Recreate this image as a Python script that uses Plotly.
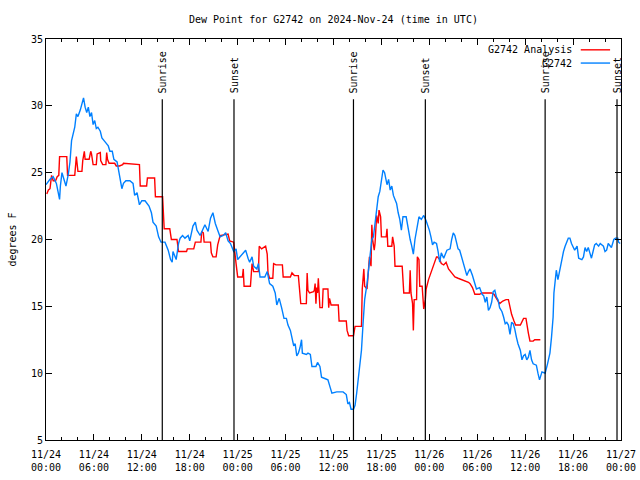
import pandas as pd
import plotly.graph_objects as go

BASE = pd.Timestamp("2024-11-24 00:00")

# ---- data: hours since 2024-11-24 00:00 UTC, dew point in degrees F ----
obs_hours = [0.0, 0.5, 0.9, 1.3, 1.5, 1.7, 1.8, 2.0, 2.3, 2.5, 2.8, 3.0, 3.2, 3.4, 3.6, 3.8, 4.0, 4.3, 4.5, 4.7,
             4.9, 5.1, 5.3, 5.5, 5.7, 5.9, 6.1, 6.3, 6.5, 6.8, 7.0, 7.2, 7.4, 7.8, 8.0, 8.3, 8.5, 8.9, 9.1, 9.3,
             9.5, 9.7, 10.0, 10.5, 10.9, 11.1, 11.4, 11.7, 12.0, 12.4, 12.6, 12.9, 13.2, 13.4, 13.8, 14.1, 14.4,
             14.9, 15.3, 15.6, 15.8, 15.9, 16.3, 16.6, 16.8, 17.1, 17.4, 17.8, 18.0, 18.4, 18.7, 18.9, 19.3, 19.6,
             19.9, 20.3, 20.6, 20.9, 21.2, 21.5, 21.8, 22.2, 22.5, 22.8, 23.1, 23.5, 23.8, 24.0, 24.3, 24.7, 25.0,
             25.3, 25.5, 25.8, 26.0, 26.4, 26.6, 26.8, 27.4, 27.7, 28.0, 28.4, 28.7, 28.9, 29.2, 29.5, 29.8, 30.1,
             30.3, 30.6, 30.8, 31.0, 31.2, 31.4, 31.6, 31.8, 32.0, 32.1, 32.6, 32.8, 33.1, 33.3, 33.8, 34.0, 34.3,
             34.5, 34.9, 35.3, 35.6, 35.8, 36.4, 37.2, 37.6, 37.8, 38.0, 38.2, 38.5, 38.7, 38.9, 39.1, 39.3, 39.5,
             39.7, 39.9, 40.2, 40.4, 40.6, 40.8, 41.0, 41.2, 41.4, 41.6, 41.8, 42.0, 42.2, 42.4, 42.7, 42.9, 43.1,
             43.3, 43.5, 43.7, 43.9, 44.1, 44.3, 44.5, 44.7, 45.1, 45.4, 45.6, 45.8, 46.0, 46.2, 46.5, 46.7, 47.0,
             47.3, 47.6, 47.8, 48.0, 48.2, 48.4, 48.6, 48.9, 49.1, 49.3, 49.5, 49.8, 50.2, 50.6, 50.8, 51.0, 51.2,
             51.4, 51.6, 51.8, 52.1, 52.3, 52.5, 52.7, 52.9, 53.1, 53.4, 53.7, 53.9, 54.3, 54.6, 54.8, 55.0, 55.2,
             55.4, 55.6, 55.8, 56.0, 56.2, 56.4, 56.6, 56.8, 57.1, 57.3, 57.5, 57.7, 57.9, 58.1, 58.3, 58.5, 58.7,
             58.9, 59.1, 59.4, 59.6, 59.8, 60.0, 60.2, 60.4, 60.6, 60.8, 61.0, 61.4, 61.6, 61.8, 62.1, 62.5, 62.8,
             63.1, 63.3, 63.5, 63.6, 63.8, 63.9, 64.1, 64.4, 64.6, 64.8, 65.0, 65.2, 65.4, 65.6, 65.8, 66.2, 66.5,
             66.7, 67.1, 67.3, 67.5, 67.7, 67.9, 68.1, 68.3, 68.5, 68.7, 68.9, 69.2, 69.4, 69.8, 70.0, 70.2, 70.4,
             70.8, 71.1, 71.3, 71.6, 71.7, 71.9]
obs_dewpoint = [24.1, 24.5, 24.7, 24.2, 23.6, 23.0, 24.0, 25.0, 24.4, 24.0, 24.9, 25.8, 27.4, 27.9, 28.4, 29.4,
                29.2, 29.7, 30.2, 30.6, 29.9, 29.5, 29.9, 29.2, 29.5, 28.6, 28.9, 28.3, 28.4, 28.1, 27.6, 27.4,
                27.3, 27.0, 26.6, 26.6, 26.0, 25.8, 25.1, 24.3, 23.8, 24.2, 24.4, 24.4, 24.2, 23.3, 23.5, 22.6,
                22.9, 22.9, 22.7, 22.5, 22.0, 21.3, 21.0, 20.2, 19.8, 19.8, 19.2, 18.5, 18.3, 19.1, 18.5, 19.7,
                20.1, 20.3, 20.1, 20.3, 19.9, 21.0, 21.3, 20.7, 20.3, 20.7, 21.1, 20.6, 21.6, 22.0, 21.2, 20.7,
                20.2, 20.3, 20.5, 19.9, 19.7, 19.1, 19.3, 18.5, 18.7, 19.0, 19.2, 18.6, 18.3, 18.7, 18.0, 17.8,
                18.2, 17.2, 17.2, 17.6, 16.7, 16.5, 16.0, 15.1, 15.6, 14.9, 14.1, 14.1, 13.6, 13.2, 12.6, 12.1,
                12.2, 11.3, 11.5, 11.9, 12.5, 11.5, 11.4, 11.5, 11.4, 10.5, 10.5, 10.8, 10.5, 9.7, 9.6, 9.5, 8.9,
                8.5, 8.6, 8.6, 8.4, 7.7, 7.8, 7.3, 7.3, 7.6, 8.5, 9.7, 10.5, 11.7, 13.7, 15.5, 16.7, 18.0, 19.0,
                20.0, 20.2, 21.3, 22.2, 23.2, 23.6, 24.6, 25.2, 25.0, 24.1, 24.5, 23.7, 24.0, 23.3, 23.0, 22.7,
                22.0, 21.5, 20.7, 21.7, 21.7, 20.6, 20.0, 19.5, 18.9, 20.0, 21.2, 21.7, 21.5, 21.8, 21.4, 21.1,
                20.7, 20.2, 19.6, 19.8, 19.7, 19.1, 18.3, 19.0, 18.6, 19.2, 19.3, 20.0, 20.5, 20.3, 19.8, 19.3,
                19.2, 18.6, 18.2, 17.8, 17.3, 17.6, 17.8, 17.3, 16.6, 16.3, 16.4, 15.9, 15.8, 15.3, 15.7, 14.7,
                14.9, 15.3, 16.1, 16.2, 15.7, 15.5, 14.9, 14.6, 14.2, 13.7, 13.8, 13.6, 12.9, 13.8, 13.7, 13.3,
                12.7, 12.2, 11.7, 11.0, 11.3, 11.4, 11.0, 11.2, 11.7, 11.0, 10.7, 10.6, 10.0, 9.5, 10.1, 10.0,
                10.7, 11.5, 12.7, 14.2, 16.0, 17.2, 17.7, 17.0, 17.9, 18.7, 19.1, 19.5, 19.8, 20.1, 20.1, 19.7,
                19.2, 19.5, 18.6, 18.5, 18.7, 19.4, 19.1, 19.4, 19.0, 18.6, 19.1, 19.6, 19.7, 19.5, 19.7, 19.5,
                19.1, 19.2, 19.7, 19.4, 20.0, 20.1, 20.1, 19.8, 19.7]

ana_hours = [0.1, 0.3, 0.5, 0.7, 0.9, 1.2, 1.4, 1.6, 1.7, 2.6, 2.7, 3.6, 3.8, 3.9, 4.0, 4.5, 4.6, 4.8, 4.9, 5.4,
             5.6, 5.7, 5.9, 6.3, 6.4, 6.8, 6.85, 7.1, 7.5, 7.6, 7.7, 7.9, 8.6, 8.8, 9.2, 9.6, 9.7, 11.7, 11.8,
             12.6, 12.7, 13.6, 13.7, 14.6, 14.7, 14.8, 15.5, 15.7, 16.4, 16.6, 17.6, 17.7, 18.5, 18.7, 19.4,
             19.5, 19.7, 19.8, 20.6, 20.7, 20.9, 21.3, 21.5, 21.8, 22.8, 23.0, 23.5, 23.6, 23.8, 24.0, 24.6,
             24.7, 24.8, 25.6, 25.8, 26.0, 26.6, 26.7, 27.0, 27.5, 27.7, 27.8, 28.0, 28.4, 28.5, 28.8, 29.6,
             29.7, 30.6, 30.8, 31.1, 31.6, 31.7, 31.9, 32.6, 32.7, 32.8, 33.0, 33.5, 33.6, 33.7, 33.8, 33.9,
             34.0, 34.1, 34.3, 34.6, 34.7, 35.3, 35.4, 35.5, 35.7, 36.6, 36.7, 37.6, 37.7, 37.9, 38.5, 38.7,
             39.5, 39.6, 39.8, 39.9, 40.2, 40.5, 40.7, 40.8, 40.9, 41.1, 41.2, 41.4, 41.6, 41.7, 41.9, 42.0,
             42.6, 42.7, 42.8, 43.3, 43.4, 43.6, 43.7, 44.6, 44.7, 44.8, 45.5, 45.6, 45.7, 45.9, 46.0, 46.1,
             46.4, 46.5, 46.7, 46.8, 47.1, 47.2, 47.3, 47.5, 47.6, 47.9, 48.2, 48.5, 48.9, 49.0, 49.3, 49.5,
             49.8, 50.1, 50.4, 50.8, 51.2, 51.6, 52.1, 52.5, 52.9, 53.1, 53.4, 53.7, 54.3, 54.6, 55.8, 56.1,
             56.4, 56.6, 56.8, 57.2, 57.6, 57.9, 58.1, 58.3, 58.6, 58.8, 59.4, 59.8, 60.1, 60.2, 60.4, 60.6,
             61.0, 61.2, 61.9]
ana_dewpoint = [23.4, 23.7, 23.8, 24.8, 24.4, 24.4, 24.7, 24.8, 26.2, 26.2, 24.8, 24.8, 26.2, 25.5, 25.1, 25.1,
                25.9, 26.6, 26.0, 26.0, 26.6, 26.4, 25.6, 25.6, 26.4, 26.5, 25.9, 25.6, 25.6, 26.5, 26.0, 25.7,
                25.7, 25.5, 25.5, 25.6, 25.7, 25.6, 24.0, 24.0, 24.6, 24.6, 23.2, 23.2, 22.0, 20.8, 20.8, 20.0,
                20.0, 19.1, 19.1, 19.3, 19.3, 19.8, 19.8, 20.6, 20.5, 19.8, 19.8, 19.0, 18.7, 18.7, 19.6, 20.3,
                20.4, 19.9, 19.8, 19.1, 18.2, 17.2, 17.2, 17.8, 16.5, 16.5, 18.2, 17.6, 17.6, 19.5, 19.3, 19.5,
                18.9, 17.5, 17.1, 17.1, 18.2, 18.1, 18.1, 17.2, 17.2, 17.5, 17.3, 17.3, 16.7, 15.2, 15.2, 17.5,
                16.2, 16.0, 16.1, 16.2, 16.7, 15.2, 16.4, 16.0, 17.1, 14.9, 14.9, 16.3, 16.3, 14.9, 15.6, 15.1,
                15.1, 13.9, 13.9, 13.2, 12.8, 12.8, 13.5, 13.5, 16.3, 17.8, 16.5, 16.3, 18.7, 18.0, 21.1, 20.0,
                19.2, 19.7, 21.8, 21.2, 22.2, 21.7, 20.2, 20.2, 20.8, 19.5, 19.5, 20.2, 19.5, 18.0, 18.0, 17.2,
                16.0, 16.0, 17.7, 16.0, 15.2, 13.2, 15.5, 15.5, 18.7, 18.5, 16.5, 16.5, 15.5, 14.8, 15.5, 16.3,
                17.0, 17.5, 18.0, 18.7, 18.7, 18.5, 18.2, 18.1, 18.3, 17.8, 17.5, 17.2, 17.1, 17.0, 16.9, 16.8,
                16.7, 16.4, 15.9, 15.9, 16.0, 16.0, 15.9, 15.6, 15.4, 15.2, 15.4, 15.5, 15.5, 15.0, 14.4, 13.9,
                13.6, 13.6, 14.1, 14.1, 13.6, 13.0, 12.4, 12.4, 12.5, 12.5]

sun_event_hours = [14.56, 23.54, 38.5, 47.5, 62.5, 71.5]
sun_event_labels = ["Sunrise", "Sunset", "Sunrise", "Sunset", "Sunrise", "Sunset"]

tick_hours = [0, 6, 12, 18, 24, 30, 36, 42, 48, 54, 60, 66, 72]
tick_labels = ["11/24<br>00:00", "11/24<br>06:00", "11/24<br>12:00", "11/24<br>18:00",
               "11/25<br>00:00", "11/25<br>06:00", "11/25<br>12:00", "11/25<br>18:00",
               "11/26<br>00:00", "11/26<br>06:00", "11/26<br>12:00", "11/26<br>18:00",
               "11/27<br>00:00"]

series_names = ["G2742 Analysis", "G2742"]
series_colors = ["#ff0000", "#0080ff"]


def to_time(hours):
    return BASE + pd.to_timedelta(pd.Series(hours, dtype=float), unit="h")


FONT = "DejaVu Sans Mono"

fig = go.Figure()
fig.add_trace(go.Scatter(x=to_time(ana_hours), y=ana_dewpoint, mode="lines", name=series_names[0],
                         line=dict(color=series_colors[0], width=1.4), showlegend=False))
fig.add_trace(go.Scatter(x=to_time(obs_hours), y=obs_dewpoint, mode="lines", name=series_names[1],
                         line=dict(color=series_colors[1], width=1.4), showlegend=False))

# sunrise / sunset markers
for t, lab in zip(to_time(sun_event_hours), sun_event_labels):
    fig.add_shape(type="line", xref="x", yref="y", x0=t, x1=t, y0=5, y1=30.5,
                  line=dict(color="black", width=1.2))
    fig.add_annotation(x=t, y=0.860, xref="x", yref="paper", text=lab, textangle=-90,
                       showarrow=False, xanchor="center", yanchor="bottom",
                       font=dict(family=FONT, size=10, color="black"))

# gnuplot-style legend (text left of sample line)
legend_rows = [0.973, 0.940]
for name, col, yp in zip(series_names, series_colors, legend_rows):
    fig.add_annotation(x=0.918, y=yp, xref="paper", yref="paper", text=name, showarrow=False,
                       xanchor="right", yanchor="middle", font=dict(family=FONT, size=10, color="black"))
    fig.add_shape(type="line", xref="paper", yref="paper", x0=0.930, x1=0.981, y0=yp, y1=yp,
                  line=dict(color=col, width=1.4))

# y axis title
fig.add_annotation(x=-0.059, y=0.5, xref="paper", yref="paper", text="degrees F", textangle=-90,
                   showarrow=False, xanchor="center", yanchor="middle",
                   font=dict(family=FONT, size=10, color="black"))

fig.update_layout(
    width=640, height=480,
    margin=dict(l=46, r=19, t=39, b=40),
    paper_bgcolor="white", plot_bgcolor="white",
    font=dict(family=FONT, size=10, color="black"),
    title=dict(text="Dew Point for G2742 on 2024-Nov-24 (time in UTC)", x=0.521, xref="container",
               xanchor="center", y=1 - 19 / 480, yref="container", yanchor="middle",
               font=dict(family=FONT, size=10, color="black")),
    showlegend=False,
)
fig.update_xaxes(
    type="date", automargin=False,
    range=[BASE, BASE + pd.Timedelta(hours=72)],
    tickvals=list(to_time(tick_hours)), ticktext=tick_labels,
    ticks="inside", ticklen=6, tickcolor="black", tickwidth=1,
    ticklabelstandoff=5,
    minor=dict(ticks="inside", ticklen=3, tickcolor="black", dtick=2 * 3600 * 1000, tick0=BASE),
    showline=True, linecolor="black", linewidth=1, mirror="allticks",
    showgrid=False, zeroline=False,
    tickfont=dict(family=FONT, size=10, color="black"),
)
fig.update_yaxes(
    range=[5, 35], dtick=5, tick0=5, automargin=False,
    ticks="inside", ticklen=6, tickcolor="black", tickwidth=1,
    showline=True, linecolor="black", linewidth=1, mirror="allticks",
    showgrid=False, zeroline=False,
    tickfont=dict(family=FONT, size=10, color="black"),
)

fig.write_html("out.html", config={"displayModeBar": False},
               post_script="document.body.style.margin='0px';")
